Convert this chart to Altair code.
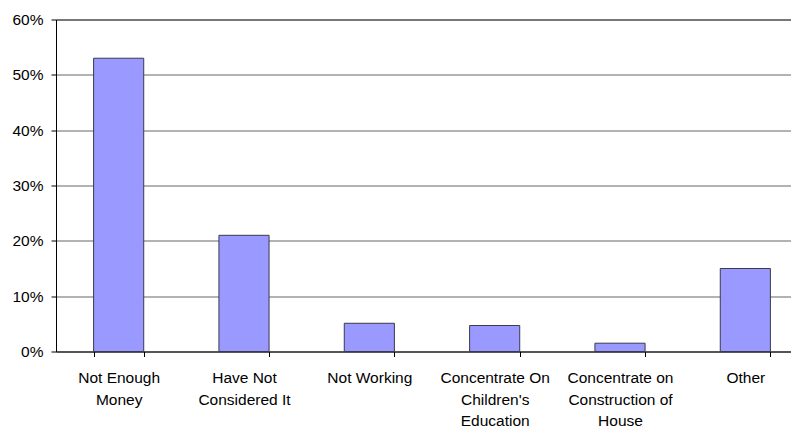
import altair as alt
import pandas as pd

categories = [
    "Not Enough Money",
    "Have Not Considered It",
    "Not Working",
    "Concentrate On Children's Education",
    "Concentrate on Construction of House",
    "Other",
]
label_lines = [
    ["Not Enough", "Money"],
    ["Have Not", "Considered It"],
    ["Not Working"],
    ["Concentrate On", "Children's", "Education"],
    ["Concentrate on", "Construction of", "House"],
    ["Other"],
]
shares = [0.53, 0.21, 0.051, 0.047, 0.015, 0.15]
y_ticks = [0, 0.1, 0.2, 0.3, 0.4, 0.5, 0.6]

df = pd.DataFrame({
    "category": ["|".join(l) for l in label_lines],
    "full": categories,
    "share": shares,
})

FONT = "Liberation Sans"

chart = alt.Chart(df).mark_bar(
    color="#9999FF", stroke="#3a3a4a", strokeWidth=1
).encode(
    x=alt.X(
        "category:N",
        sort=None,
        title=None,
        scale=alt.Scale(paddingInner=0.6, paddingOuter=0.3),
        axis=alt.Axis(
            labelExpr="split(datum.label, '|')",
            labelAngle=0,
            labelAlign="center",
            labelBaseline="top",
            labelFont=FONT,
            labelFontSize=15.5,
            labelColor="#000000",
            labelLineHeight=21.7,
            labelPadding=14,
            tickBand="extent",
            tickSize=5,
            tickColor="#000000",
            domainColor="#000000",
            labelLimit=300,
            grid=False,
        ),
    ),
    y=alt.Y(
        "share:Q",
        title=None,
        scale=alt.Scale(domain=[0, 0.6], nice=False),
        axis=alt.Axis(
            values=y_ticks,
            format=".0%",
            labelFont=FONT,
            labelFontSize=15.5,
            labelColor="#000000",
            labelPadding=8,
            tickSize=5,
            tickColor="#000000",
            domainColor="#000000",
            gridColor={"condition": {"test": "datum.value >= 0.6", "value": "#000000"}, "value": "#666666"},
            gridOpacity=1,
        ),
    ),
).properties(
    width=752,
    height=332,
    autosize=alt.AutoSizeParams(type="none"),
    padding={"left": 48, "top": 11.5, "right": -17, "bottom": 80},
).configure_view(
    stroke=None
).configure(
    background="white"
)

chart.save("out.html", embed_options={"renderer": "svg", "actions": False})
